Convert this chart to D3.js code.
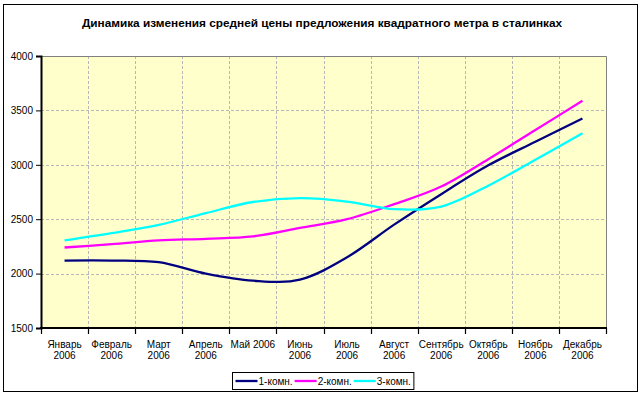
<!DOCTYPE html>
<html>
<head>
<meta charset="utf-8">
<script src="https://cdn.jsdelivr.net/npm/d3@7"></script>
<style>
  html, body { margin: 0; padding: 0; background: #fff; }
  svg text { font-family: Arial, "Liberation Sans", sans-serif; fill: #000; }
</style>
</head>
<body>
<div id="chart"></div>
<script>
const title = 'Динамика изменения средней цены предложения квадратного метра в сталинках';
const months = ['Январь 2006', 'Февраль 2006', 'Март 2006', 'Апрель 2006', 'Май 2006', 'Июнь 2006',
  'Июль 2006', 'Август 2006', 'Сентябрь 2006', 'Октябрь 2006', 'Ноябрь 2006', 'Декабрь 2006'];
const seriesNames = ['1-комн.', '2-комн.', '3-комн.'];
const oneRoom = [2120, 2120, 2105, 2000, 1935, 1945, 2150, 2450, 2730, 2995, 3212, 3426];
const twoRoom = [2240, 2270, 2305, 2320, 2342, 2420, 2500, 2638, 2800, 3052, 3320, 3588];
const threeRoom = [2305, 2372, 2448, 2556, 2658, 2693, 2662, 2592, 2616, 2808, 3047, 3289];
const yTicks = [1500, 2000, 2500, 3000, 3500, 4000];
const lineColors = ['#000080', '#FF00FF', '#00FFFF'];

const width = 643, height = 397;
const plot = { left: 41, right: 606, top: 56, bottom: 328 };

const svg = d3.select('#chart').append('svg')
  .attr('width', width)
  .attr('height', height);

// outer chart border
svg.append('rect')
  .attr('x', 3.5).attr('y', 4.5)
  .attr('width', 634).attr('height', 387)
  .attr('fill', '#fff')
  .attr('stroke', '#000')
  .attr('stroke-width', 1);

svg.append('text')
  .attr('x', 322).attr('y', 27)
  .attr('text-anchor', 'middle')
  .style('font-size', '11.8px')
  .style('font-weight', 'bold')
  .text(title);

const xScale = d3.scaleBand()
  .domain(months)
  .range([plot.left, plot.right])
  .padding(0);

const yScale = d3.scaleLinear()
  .domain([1500, 4000])
  .range([plot.bottom, plot.top]);

// plot area background
svg.append('rect')
  .attr('x', plot.left).attr('y', plot.top)
  .attr('width', plot.right - plot.left)
  .attr('height', plot.bottom - plot.top)
  .attr('fill', '#FFFFCC');

// grid lines
const grid = svg.append('g')
  .attr('stroke', '#B8B8B8')
  .attr('stroke-width', 1)
  .attr('stroke-dasharray', '3,2');

grid.selectAll('.hgrid')
  .data(yTicks.filter(v => v > 1500 && v < 4000))
  .enter().append('line')
  .attr('x1', plot.left).attr('x2', plot.right)
  .attr('y1', d => Math.round(yScale(d)) + 0.5)
  .attr('y2', d => Math.round(yScale(d)) + 0.5);

grid.selectAll('.vgrid')
  .data(months.slice(1))
  .enter().append('line')
  .attr('x1', d => Math.round(xScale(d)) + 0.5)
  .attr('x2', d => Math.round(xScale(d)) + 0.5)
  .attr('y1', plot.top).attr('y2', plot.bottom);

// gray frame on top and right
svg.append('path')
  .attr('d', `M${plot.left},${plot.top + 0.5}H${plot.right + 0.5}V${plot.bottom}`)
  .attr('fill', 'none')
  .attr('stroke', '#808080')
  .attr('stroke-width', 1);

// y axis
const yAxis = d3.axisLeft(yScale)
  .tickValues(yTicks)
  .tickSize(5)
  .tickPadding(3)
  .tickFormat(d3.format('d'));

const yG = svg.append('g')
  .attr('transform', `translate(${plot.left},0)`)
  .call(yAxis);
yG.attr('font-family', null).attr('font-size', null);
yG.select('.domain').attr('stroke', '#000').attr('stroke-width', 2);
yG.selectAll('.tick line').attr('stroke', '#000');
yG.selectAll('.tick text').style('font-size', '10px');

// x axis (ticks at category boundaries)
const xG = svg.append('g');
xG.append('line')
  .attr('x1', plot.left - 1).attr('x2', plot.right + 1)
  .attr('y1', plot.bottom).attr('y2', plot.bottom)
  .attr('stroke', '#000').attr('stroke-width', 2);
xG.selectAll('.xtick')
  .data(months.concat(['end']))
  .enter().append('line')
  .attr('x1', (d, i) => Math.round(plot.left + i * xScale.bandwidth()) + 0.5)
  .attr('x2', (d, i) => Math.round(plot.left + i * xScale.bandwidth()) + 0.5)
  .attr('y1', plot.bottom).attr('y2', plot.bottom + 6)
  .attr('stroke', '#000').attr('stroke-width', 1.2);

// category labels, wrapped when wider than a band
const labels = xG.selectAll('.xlabel')
  .data(months)
  .enter().append('text')
  .attr('text-anchor', 'middle')
  .style('font-size', '10px')
  .attr('x', d => xScale(d) + xScale.bandwidth() / 2)
  .attr('y', 348);

labels.each(function (d) {
  const t = d3.select(this);
  t.text(d);
  if (this.getComputedTextLength() > xScale.bandwidth()) {
    const parts = d.split(' ');
    t.text(null);
    parts.forEach((p, i) => {
      t.append('tspan')
        .attr('x', xScale(d) + xScale.bandwidth() / 2)
        .attr('dy', i === 0 ? 0 : 11)
        .text(p);
    });
  }
});

// smoothed series lines
const allSeries = [oneRoom, twoRoom, threeRoom];
const line = d3.line()
  .x((d, i) => xScale(months[i]) + xScale.bandwidth() / 2)
  .y(d => yScale(d))
  .curve(d3.curveCatmullRom.alpha(0));

allSeries.forEach((values, idx) => {
  svg.append('path')
    .datum(values)
    .attr('fill', 'none')
    .attr('stroke', lineColors[idx])
    .attr('stroke-width', 2.3)
    .attr('stroke-linejoin', 'round')
    .attr('d', line);
});

// legend
const legend = svg.append('g');
const lx = 232.5, ly = 372.5, lh = 17;
const legendBox = legend.append('rect')
  .attr('x', lx).attr('y', ly)
  .attr('height', lh)
  .attr('fill', '#fff')
  .attr('stroke', '#000')
  .attr('stroke-width', 1);

let cx = lx + 3;
seriesNames.forEach((name, idx) => {
  legend.append('line')
    .attr('x1', cx).attr('x2', cx + 22)
    .attr('y1', ly + lh / 2).attr('y2', ly + lh / 2)
    .attr('stroke', lineColors[idx])
    .attr('stroke-width', 2.3);
  const t = legend.append('text')
    .attr('x', cx + 23)
    .attr('y', ly + lh / 2 + 3.5)
    .style('font-size', '10px')
    .text(name);
  cx += 23 + t.node().getComputedTextLength() + 2;
});
legendBox.attr('width', cx - lx + 1);
</script>
</body>
</html>
